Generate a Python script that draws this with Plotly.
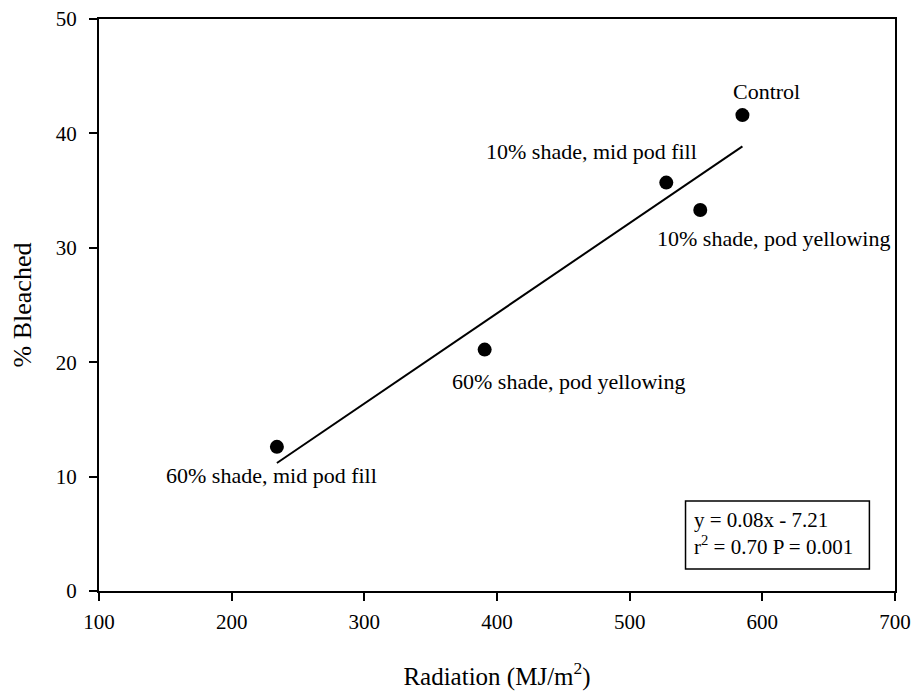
import numpy as np
import plotly.graph_objects as go

# Data
treatments = ["Control", "10% shade, mid pod fill", "10% shade, pod yellowing",
              "60% shade, pod yellowing", "60% shade, mid pod fill"]
radiation = [585.0, 527.6, 553.2, 390.7, 234.1]
bleached = [41.6, 35.7, 33.3, 21.1, 12.6]

x_ticks = [100, 200, 300, 400, 500, 600, 700]
y_ticks = [0, 10, 20, 30, 40, 50]

# label anchor positions (data coords) for each treatment
label_x = [603.5, 471.3, 608.4, 454.0, 229.8]
label_y = [43.65, 38.4, 30.77, 18.3, 10.14]

eq_text = "y = 0.08x - 7.21"
stat_text = "r<sup>2</sup> = 0.70 P = 0.001"

FONT = "Liberation Serif"

# regression line via least squares on the data
slope, intercept = np.polyfit(radiation, bleached, 1)
fit_x = [min(radiation), max(radiation)]
fit_y = [slope * v + intercept for v in fit_x]

fig = go.Figure()
fig.add_trace(go.Scatter(x=fit_x, y=fit_y, mode="lines",
                         line=dict(color="black", width=2), showlegend=False,
                         hoverinfo="skip"))
fig.add_trace(go.Scatter(x=radiation, y=bleached, mode="markers",
                         marker=dict(color="black", size=14), showlegend=False,
                         text=treatments))

for t, lx, ly in zip(treatments, label_x, label_y):
    fig.add_annotation(x=lx, y=ly, xref="x", yref="y", text=t, showarrow=False,
                       font=dict(family=FONT, size=22, color="black"),
                       xanchor="center", yanchor="middle")

# statistics box
fig.add_shape(type="rect", xref="x", yref="y", x0=542.1, x1=680.7, y0=1.92, y1=7.87,
              line=dict(color="black", width=1.5), fillcolor="white")
fig.add_annotation(x=547.3, y=6.25, xref="x", yref="y", text=eq_text, showarrow=False,
                   font=dict(family=FONT, size=21, color="black"),
                   xanchor="left", yanchor="middle")
fig.add_annotation(x=547.3, y=3.95, xref="x", yref="y", text=stat_text, showarrow=False,
                   font=dict(family=FONT, size=21, color="black"),
                   xanchor="left", yanchor="middle")

axis_common = dict(showline=True, linecolor="black", linewidth=2, mirror=True,
                   ticks="outside", ticklen=8, tickwidth=2, tickcolor="black",
                   showgrid=False, zeroline=False, automargin=False,
                   ticklabeloverflow="allow",
                   tickfont=dict(family=FONT, size=21, color="black"))

fig.update_xaxes(range=[100, 700], tickvals=x_ticks, ticktext=[str(v) for v in x_ticks],
                 ticklabelstandoff=3,
                 title=dict(text="Radiation (MJ/m<sup>2</sup>)",
                            font=dict(family=FONT, size=25, color="black"), standoff=35),
                 **axis_common)
fig.update_yaxes(range=[0, 50], tickvals=y_ticks, ticktext=[str(v) for v in y_ticks],
                 ticklabelstandoff=8,
                 title=dict(text="% Bleached",
                            font=dict(family=FONT, size=26, color="black"), standoff=17),
                 **axis_common)

fig.update_layout(width=912, height=691, plot_bgcolor="white", paper_bgcolor="white",
                  font=dict(family=FONT, color="black"),
                  margin=dict(l=99, r=17, t=19, b=100), showlegend=False)

# remove the default page margin so the figure sits at the window's corner
fig.write_html("out.html", config={"displayModeBar": False},
               post_script="document.body.style.margin='0';document.body.style.overflow='hidden';")
